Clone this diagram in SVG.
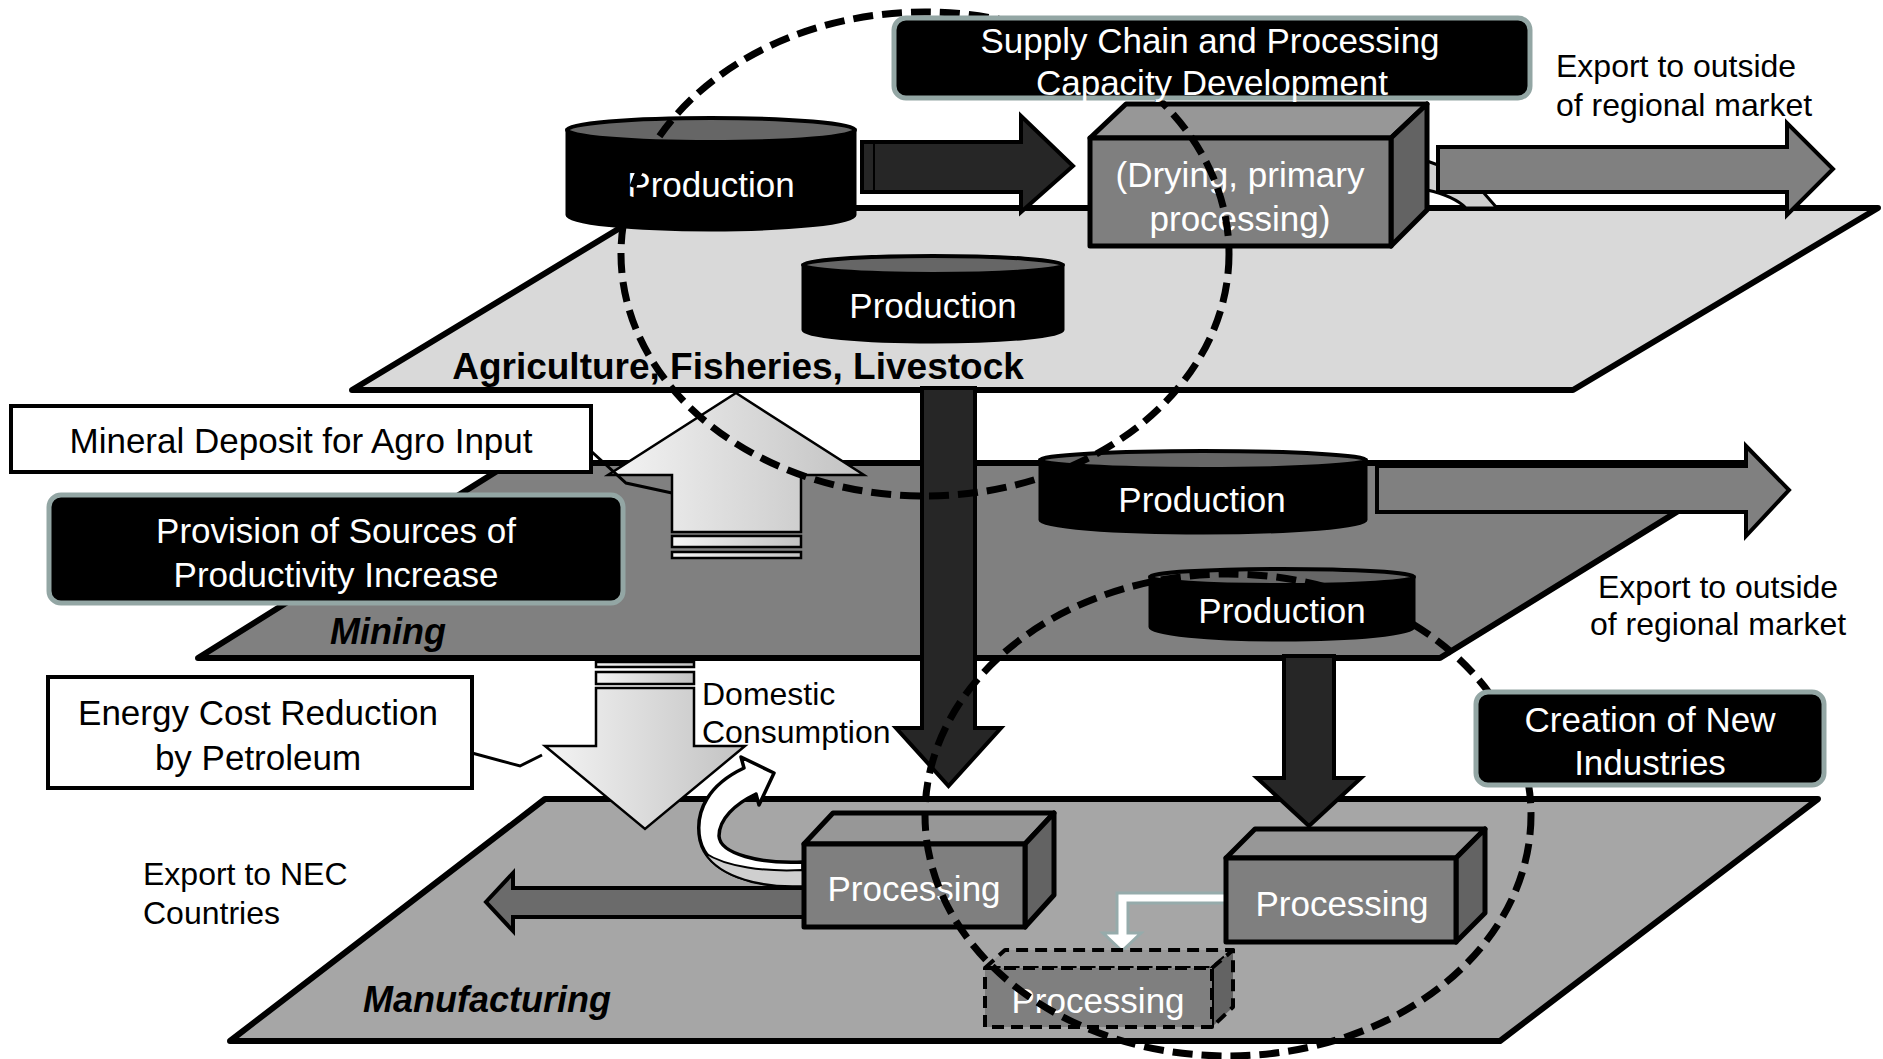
<svg xmlns="http://www.w3.org/2000/svg" width="1883" height="1059" viewBox="0 0 1883 1059">
  <style>
    .plane { stroke: #000; stroke-width: 6; stroke-linejoin: round; }
    .dark { fill: #262626; stroke: #000; stroke-width: 4; }
    .gray { fill: #808080; stroke: #000; stroke-width: 4; }
    .light { fill: url(#lightGrad); stroke: #000; stroke-width: 2.5; }
    .cylBody { fill: #000; stroke: #000; stroke-width: 3; }
    .cylTop { fill: #666; stroke: #000; stroke-width: 4; }
    .front { fill: #7f7f7f; stroke: #000; stroke-width: 5; stroke-linejoin: round; }
    .top { fill: #979797; stroke: #000; stroke-width: 5; stroke-linejoin: round; }
    .side { fill: #636363; stroke: #000; stroke-width: 5; stroke-linejoin: round; }
    .ghost { stroke-dasharray: 12 7; stroke-width: 4; }
    .tag { fill: #000; stroke: #93a6a4; stroke-width: 5; }
    .note { fill: #fff; stroke: #000; stroke-width: 4; }
    .ring { fill: none; stroke: #000; stroke-width: 7; stroke-dasharray: 20 9; }
    .lead { fill: none; stroke: #000; stroke-width: 3; }
    text { font-family: "Liberation Sans", Arial, sans-serif; font-size: 35px; }
    .c { text-anchor: middle; }
    .w { fill: #fff; }
    .k { fill: #000; }
    .s32 { font-size: 32px; }
    .sector { font-weight: bold; font-size: 37px; }
    .it { font-style: italic; font-size: 36px; }
  </style>
  <defs>
    <linearGradient id="lightGrad" x1="0" y1="0" x2="1" y2="0">
      <stop offset="0" stop-color="#f4f4f4"/>
      <stop offset="1" stop-color="#c2c2c2"/>
    </linearGradient>
  </defs>

  <!-- sector planes -->
  <g id="plane-manufacturing">
    <polygon class="plane" fill="#a6a6a6" points="545,799 1818,799 1500,1041 230,1041"/>
  </g>
  <g id="plane-mining">
    <polygon class="plane" fill="#808080" points="510,463 1756,463 1440,658 198,658"/>
  </g>
  <g id="plane-agriculture">
    <polygon class="plane" fill="#d9d9d9" points="653,208 1878,208 1573,390 352,390"/>
  </g>

  <!-- flows between sectors -->
  <g id="connectors">
    <!-- mining production to export -->
    <path class="gray" d="M1377,466 L1746,466 L1746,446 L1789,490 L1746,536 L1746,512 L1377,512 Z"/>
    <!-- mining production down to new processing -->
    <path class="dark" d="M1284,656 L1334,656 L1334,778 L1361,778 L1309,826 L1257,778 L1284,778 Z"/>
    <!-- mineral input up to agriculture -->
    <path class="light" d="M672,532 L672,475 L608,475 L736,393 L864,475 L801,475 L801,532 Z"/>
    <rect class="light" x="672" y="536" width="129" height="11"/>
    <rect class="light" x="672" y="552" width="129" height="6"/>
    <!-- petroleum down to manufacturing -->
    <rect class="light" x="596" y="662" width="98" height="5"/>
    <rect class="light" x="596" y="672" width="98" height="12"/>
    <path class="light" d="M596,688 L694,688 L694,746 L745,746 L645,829 L545,746 L596,746 Z"/>
    <!-- production to primary processing -->
    <path class="dark" d="M862,142 L1021,142 L1021,116 L1073,166 L1021,212 L1021,192 L862,192 Z"/>
    <line x1="874" y1="142" x2="874" y2="192" stroke="#000" stroke-width="2"/>
    <!-- small ribbon behind the export arrow -->
    <polygon fill="#d0d0d0" points="1427,161 1438,165 1438,192 1427,190"/>
    <path fill="#d0d0d0" stroke="#000" stroke-width="3" d="M1427,190 C1445,194 1458,200 1466,208 L1497,208 L1483,192"/>
    <line x1="1427" y1="161" x2="1438" y2="165" stroke="#000" stroke-width="3"/>
    <!-- primary processing to export -->
    <path class="gray" d="M1438,147 L1787,147 L1787,123 L1833,169 L1787,215 L1787,192 L1438,192 Z"/>
    <!-- agriculture down to manufacturing -->
    <path class="dark" d="M922,388 L975,388 L975,728 L1001,728 L948.5,786 L896,728 L922,728 Z"/>
    <!-- manufacturing export to NEC countries -->
    <path fill="#6b6b6b" stroke="#000" stroke-width="4" d="M806,888 L513,888 L513,873 L486,902 L513,931 L513,917 L806,917 Z"/>
    <!-- processing back to domestic consumption -->
    <path fill="#fff" stroke="#000" stroke-width="3.5" stroke-linejoin="round" d="M803,886 C758,888 708,874 700,840 C694,810 710,784 744,768 L741,757 L774,773 L759,805 L756,794 C735,804 719,819 719,836 C720,854 760,864 803,862 Z"/>
    <path fill="#cfcfcf" stroke="#000" stroke-width="2" d="M803,886 C763,888 720,878 705,853 C726,867 765,872 803,870 Z"/>
    <!-- processing to derived processing -->
    <path fill="#fff" stroke="#96abab" stroke-width="3" d="M1226,893 L1117,893 L1117,933 L1103,933 L1122,951 L1141,933 L1128,933 L1128,903 L1226,903 Z"/>
    <!-- callout leads -->
    <polyline class="lead" points="592,452 626,483 672,493"/>
    <polyline class="lead" points="472,753 520,766 542,755"/>
  </g>

  <!-- production cylinders -->
  <g id="production-agri-1">
    <path class="cylBody" d="M567,130 L567,215 A144,15 0 0 0 855,215 L855,130 Z"/>
    <ellipse class="cylTop" cx="711" cy="130" rx="144" ry="12"/>
    <text class="c w" x="711" y="197">Production</text>
  </g>
  <g id="production-agri-2">
    <path class="cylBody" d="M803,265 L803,330 A130,12 0 0 0 1063,330 L1063,265 Z"/>
    <ellipse class="cylTop" cx="933" cy="265" rx="130" ry="9"/>
    <text class="c w" x="933" y="318">Production</text>
  </g>
  <g id="production-mining-1">
    <path class="cylBody" d="M1040,460 L1040,520 A163,13 0 0 0 1366,520 L1366,460 Z"/>
    <ellipse class="cylTop" cx="1203" cy="460" rx="163" ry="9"/>
    <text class="c w" x="1202" y="512">Production</text>
  </g>
  <g id="production-mining-2">
    <path class="cylBody" d="M1150,577 L1150,627 A132,13 0 0 0 1414,627 L1414,577 Z"/>
    <ellipse class="cylTop" cx="1282" cy="577" rx="132" ry="8"/>
    <text class="c w" x="1282" y="623">Production</text>
  </g>

  <!-- processing blocks -->
  <g id="primary-processing">
    <polygon class="top" points="1090,138 1126,104 1427,104 1391,138"/>
    <polygon class="side" points="1391,138 1427,104 1427,210 1391,246"/>
    <rect class="front" x="1090" y="138" width="301" height="108"/>
    <text class="c w" x="1240" y="187">(Drying, primary</text>
    <text class="c w" x="1240" y="231">processing)</text>
  </g>
  <g id="processing-left">
    <polygon class="top" points="804,844 833,813 1054,813 1025,844"/>
    <polygon class="side" points="1025,844 1054,813 1054,895 1025,927"/>
    <rect class="front" x="804" y="844" width="221" height="83"/>
    <text class="c w" x="914" y="901">Processing</text>
  </g>
  <g id="processing-right">
    <polygon class="top" points="1226,858 1255,829 1485,829 1456,858"/>
    <polygon class="side" points="1456,858 1485,829 1485,913 1456,942"/>
    <rect class="front" x="1226" y="858" width="230" height="84"/>
    <text class="c w" x="1342" y="916">Processing</text>
  </g>
  <g id="processing-derived">
    <polygon class="top ghost" fill="#a6a6a6" points="985,968 1005,950 1233,950 1212,968"/>
    <polygon class="side ghost" points="1212,968 1233,950 1233,1007 1212,1027"/>
    <rect class="front ghost" x="985" y="968" width="227" height="59"/>
    <text class="c w" x="1098" y="1013">Processing</text>
  </g>

  <!-- callout boxes -->
  <g id="mineral-deposit">
    <rect class="note" x="11" y="406" width="580" height="66"/>
    <text class="c k" x="301" y="453">Mineral Deposit for Agro Input</text>
  </g>
  <g id="productivity">
    <rect class="tag" x="49" y="495" width="574" height="108" rx="12"/>
    <text class="c w" x="336" y="543">Provision of Sources of</text>
    <text class="c w" x="336" y="587">Productivity Increase</text>
  </g>
  <g id="energy-cost">
    <rect class="note" x="48" y="677" width="424" height="111"/>
    <text class="c k" x="258" y="725">Energy Cost Reduction</text>
    <text class="c k" x="258" y="770">by Petroleum</text>
  </g>

  <!-- free labels -->
  <g id="labels">
    <text class="c k sector" x="738" y="379">Agriculture, Fisheries, Livestock</text>
    <text class="k sector it" x="330" y="644">Mining</text>
    <text class="k sector it" x="363" y="1012">Manufacturing</text>
    <text class="k s32" x="1556" y="77">Export to outside</text>
    <text class="k s32" x="1556" y="116">of regional market</text>
    <text class="k s32" x="1598" y="598">Export to outside</text>
    <text class="k s32" x="1590" y="635">of regional market</text>
    <text class="k s32" x="702" y="705">Domestic</text>
    <text class="k s32" x="702" y="743">Consumption</text>
    <text class="k s32" x="143" y="885">Export to NEC</text>
    <text class="k s32" x="143" y="924">Countries</text>
  </g>

  <!-- focus areas -->
  <g id="focus-areas">
    <ellipse class="ring" cx="925" cy="254" rx="304" ry="242"/>
    <ellipse class="ring" cx="1228" cy="815" rx="303" ry="241"/>
  </g>

  <g id="supply-chain">
    <rect class="tag" x="894" y="18" width="636" height="80" rx="12"/>
    <text class="c w" x="1210" y="53">Supply Chain and Processing</text>
    <text class="c w" x="1212" y="95">Capacity Development</text>
  </g>
  <g id="new-industries">
    <rect class="tag" x="1476" y="692" width="348" height="93" rx="12"/>
    <text class="c w" x="1650" y="732">Creation of New</text>
    <text class="c w" x="1650" y="775">Industries</text>
  </g>
</svg>
